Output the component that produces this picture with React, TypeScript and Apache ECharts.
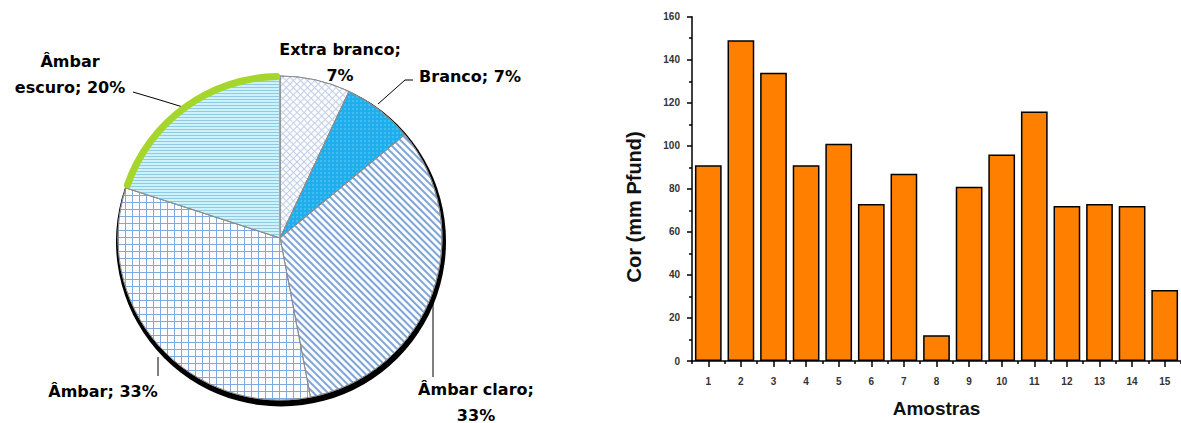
import React, { useEffect, useRef } from 'react';
import * as echarts from 'echarts';

// ---------- data ----------
const pieNames = ['Extra branco', 'Branco', 'Âmbar claro', 'Âmbar', 'Âmbar escuro'];
const pieValues = [7, 7, 33, 33, 20];
// 0 = one line, 1 = break after ";", 2 = break after first word
const pieLabelBreaks = [1, 0, 1, 0, 2];

const sampleLabels = ['1', '2', '3', '4', '5', '6', '7', '8', '9', '10', '11', '12', '13', '14', '15'];
const colorValues = [91, 149, 134, 91, 101, 73, 87, 12, 81, 96, 116, 72, 73, 72, 33];
const yMin = 0;
const yMax = 160;
const yInterval = 20;

// ---------- styles ----------
const sliceStyles: any[] = [
  {
    color: '#c2cfe6',
    decal: { symbol: 'rect', symbolSize: 1, color: '#fafcff', dashArrayX: [4, 1], dashArrayY: [4, 1], rotation: Math.PI / 4 },
  },
  {
    color: '#1caeee',
    decal: { symbol: 'circle', symbolSize: 0.6, color: '#8fd6f6', dashArrayX: [2, 2], dashArrayY: [2, 2], rotation: 0 },
  },
  {
    color: '#fbfdff',
    decal: { symbol: 'rect', symbolSize: 1, color: '#7fa4d8', dashArrayX: [1, 0], dashArrayY: [2, 3], rotation: Math.PI / 4 },
  },
  {
    color: '#82a8e0',
    decal: { symbol: 'rect', symbolSize: 1, color: '#fbfdff', dashArrayX: [6, 1], dashArrayY: [6, 1], rotation: 0 },
  },
  {
    color: '#cdf2fb',
    decal: { symbol: 'rect', symbolSize: 1, color: '#90cbe4', dashArrayX: [1, 0], dashArrayY: [1, 2], rotation: 0 },
  },
];

const labelPos: number[][] = [
  [340, 62],
  [470, 76],
  [476, 402],
  [103, 391],
  [70, 74],
];
const labelLines: number[][][] = [
  [[0, 0], [0, 0], [0, 0]],
  [[378, 104], [405, 80], [413, 80]],
  [[433, 282], [433, 330], [433, 377]],
  [[158, 357], [158, 366], [158, 376]],
  [[186, 108], [160, 100], [133, 92]],
];

function formatPieLabel(name: string, pct: number, mode: number) {
  if (mode === 1) return `${name};\n${pct}%`;
  if (mode === 2) {
    const parts = name.split(' ');
    return `${parts[0]}\n${parts.slice(1).join(' ')}; ${pct}%`;
  }
  return `${name}; ${pct}%`;
}

export default function App() {
  const ref = useRef<HTMLDivElement>(null);

  useEffect(() => {
    if (!ref.current) return;
    const chart = echarts.init(ref.current, undefined, { renderer: 'svg' });

    const pieData = pieNames.map((n, i) => ({
      name: n,
      value: pieValues[i],
      itemStyle: { ...sliceStyles[i], borderColor: '#8c8c8c', borderWidth: 1 },
      labelLine: { show: i !== 0 },
    }));

    const rimData = pieNames.map((n, i) => ({
      name: n,
      value: pieValues[i],
      itemStyle: { color: i === 4 ? '#a6d62b' : 'rgba(0,0,0,0)', borderRadius: 3 },
    }));

    const option: any = {
      animation: false,
      backgroundColor: '#ffffff',
      graphic: [
        {
          type: 'circle',
          z: 0,
          shape: { cx: 281, cy: 241.5, r: 165 },
          style: { fill: '#000000' },
        },
      ],
      grid: { left: 692, top: 16.7, width: 496.5, height: 345.3, containLabel: false },
      xAxis: [
        {
          type: 'category',
          data: sampleLabels,
          gridIndex: 0,
          position: 'bottom',
          name: 'Amostras',
          nameLocation: 'middle',
          nameGap: 38,
          nameTextStyle: { fontFamily: 'Liberation Sans', fontWeight: 900, fontSize: 19, color: '#111' },
          axisLine: { show: true, lineStyle: { color: '#000', width: 1.5 } },
          axisTick: { show: true, alignWithLabel: true, length: 6, lineStyle: { color: '#000', width: 1.5 } },
          axisLabel: { fontFamily: 'Liberation Sans', fontWeight: 'bold', fontSize: 10, color: '#333', margin: 15 },
          splitLine: { show: false },
        },
        {
          type: 'category',
          data: sampleLabels,
          gridIndex: 0,
          position: 'bottom',
          axisLine: { show: false },
          axisTick: { show: true, length: 3, lineStyle: { color: '#000', width: 1.5 } },
          axisLabel: { show: false },
          splitLine: { show: false },
        },
      ],
      yAxis: {
        type: 'value',
        min: yMin,
        max: yMax,
        interval: yInterval,
        name: 'Cor (mm Pfund)',
        nameLocation: 'middle',
        nameGap: 48,
        nameTextStyle: { fontFamily: 'Liberation Sans', fontWeight: 900, fontSize: 20, color: '#111', padding: [0, 36, 0, 0] },
        axisLine: { show: true, lineStyle: { color: '#000', width: 1.5 } },
        axisTick: { show: true, length: 5, lineStyle: { color: '#000', width: 1.5 } },
        minorTick: { show: true, splitNumber: 2, length: 3, lineStyle: { color: '#000', width: 1.5 } },
        axisLabel: { fontFamily: 'Liberation Sans', fontWeight: 'bold', fontSize: 10, color: '#333', margin: 12 },
        splitLine: { show: false },
      },
      series: [
        {
          type: 'pie',
          z: 2,
          center: [280, 238],
          radius: 162,
          startAngle: 90,
          clockwise: true,
          data: pieData,
          label: {
            show: true,
            position: 'outside',
            overflow: 'none',
            width: 300,
            fontFamily: 'DejaVu Sans',
            fontWeight: 'bold',
            fontSize: 16,
            lineHeight: 26,
            color: '#000',
            formatter: (p: any) => formatPieLabel(p.name, p.percent, pieLabelBreaks[p.dataIndex]),
          },
          labelLine: { show: true, lineStyle: { color: '#000', width: 1 } },
          labelLayout: (params: any) => {
            const i = params.dataIndex;
            return {
              x: labelPos[i][0],
              y: labelPos[i][1],
              align: 'center',
              verticalAlign: 'middle',
              labelLinePoints: labelLines[i],
            };
          },
        },
        {
          type: 'pie',
          z: 3,
          silent: true,
          center: [280, 238],
          radius: [158, 165],
          startAngle: 90,
          clockwise: true,
          data: rimData,
          label: { show: false },
          labelLine: { show: false },
        },
        {
          type: 'bar',
          xAxisIndex: 0,
          yAxisIndex: 0,
          data: colorValues,
          barCategoryGap: '18%',
          itemStyle: { color: '#ff8000', borderColor: '#000', borderWidth: 1.5 },
        },
      ],
    };

    chart.setOption(option);
    return () => chart.dispose();
  }, []);

  return (
    <div
      ref={ref}
      style={{ position: 'fixed', left: 0, top: 0, width: 1181, height: 423, background: '#fff' }}
    />
  );
}
